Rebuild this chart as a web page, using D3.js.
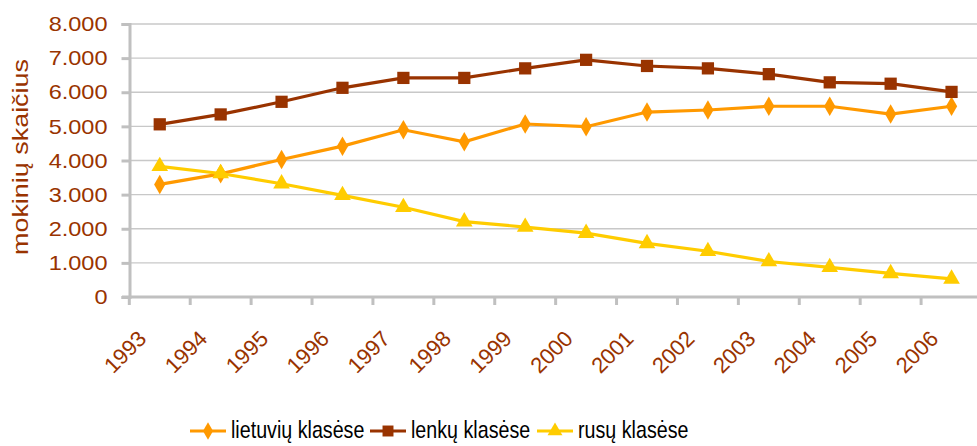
<!DOCTYPE html>
<html>
<head>
<meta charset="utf-8">
<script src="https://cdn.jsdelivr.net/npm/d3@7"></script>
<style>
  body { margin: 0; background: #fff; }
  svg { display: block; }
</style>
</head>
<body>
<svg id="svgfield" width="977" height="446"></svg>
<script>
var years = ["1993","1994","1995","1996","1997","1998","1999","2000","2001","2002","2003","2004","2005","2006"];
var lietuviu = [3300, 3610, 4030, 4420, 4900, 4550, 5070, 4990, 5420, 5480, 5590, 5590, 5360, 5590];
var lenku = [5060, 5350, 5720, 6130, 6420, 6420, 6700, 6950, 6770, 6700, 6530, 6290, 6250, 6010];
var rusu = [3830, 3620, 3320, 2980, 2630, 2210, 2050, 1870, 1570, 1340, 1040, 870, 690, 530];
var yTicks = [0, 1000, 2000, 3000, 4000, 5000, 6000, 7000, 8000];
var seriesNames = ["lietuvių klasėse", "lenkų klasėse", "rusų klasėse"];

var svg = d3.select("#svgfield");
var brown = "#993300";
var axisGray = "#c0c0c0";
var font = "Liberation Sans, Arial, sans-serif";

var x = d3.scaleBand().domain(years).range([129.3, 982]);
var y = d3.scaleLinear().domain([0, 8000]).range([297, 24]);
var fmt = d3.formatLocale({decimal: ",", thousands: ".", grouping: [3], currency: ["", ""]}).format(",");

// gridlines
svg.append("g").selectAll("line").data(yTicks.slice(1)).join("line")
  .attr("x1", 129).attr("x2", 977)
  .attr("y1", d => y(d)).attr("y2", d => y(d))
  .attr("stroke", "#c8c8c8").attr("stroke-width", 1.3);

// y axis
var yaxis = d3.axisLeft(y).tickValues(yTicks).tickFormat(fmt).tickSize(8).tickPadding(14);
var gy = svg.append("g").attr("transform", "translate(129.5,0)").call(yaxis);
gy.select(".domain").attr("stroke", axisGray).attr("stroke-width", 3);
gy.selectAll(".tick line").attr("stroke", axisGray).attr("stroke-width", 3);
gy.selectAll("text").attr("fill", brown)
  .style("font-family", font).style("font-size", "21px")
  .each(function() {
    // labels in the original are a bit wider than plain Arial
    var w = this.getComputedTextLength();
    d3.select(this).attr("textLength", w * 1.12).attr("lengthAdjust", "spacingAndGlyphs");
  });

// x axis (ticks at category boundaries)
var gx = svg.append("g").attr("transform", "translate(0,297)");
gx.append("line").attr("x1", 122).attr("x2", 977).attr("y1", 0).attr("y2", 0)
  .attr("stroke", axisGray).attr("stroke-width", 3);
gx.selectAll("line.t").data(years).join("line").attr("class", "t")
  .attr("x1", d => x(d)).attr("x2", d => x(d)).attr("y1", 0).attr("y2", 8)
  .attr("stroke", axisGray).attr("stroke-width", 3);
gx.selectAll("text").data(years).join("text")
  .attr("transform", d => "translate(" + (x(d) + x.bandwidth() / 2 - 12) + ",43) rotate(-45)")
  .attr("text-anchor", "end")
  .attr("fill", brown)
  .style("font-family", font).style("font-size", "22px")
  .text(d => d);

// y title
svg.append("text")
  .attr("transform", "translate(28,157) rotate(-90)")
  .attr("text-anchor", "middle")
  .attr("fill", brown)
  .style("font-family", font).style("font-size", "22px")
  .attr("textLength", 196).attr("lengthAdjust", "spacingAndGlyphs")
  .text("mokinių skaičius");

var series = [
  {name: seriesNames[0], values: lietuviu, color: "#ff9900", shape: d3.symbolDiamond, size: 110},
  {name: seriesNames[1], values: lenku, color: "#993300", shape: d3.symbolSquare, size: 150},
  {name: seriesNames[2], values: rusu, color: "#ffcc00", shape: d3.symbolTriangle, size: 120}
];

var cx = d => x(d) + x.bandwidth() / 2;
var line = d3.line().x((d, i) => cx(years[i])).y(d => y(d));

series.forEach(function(s) {
  var g = svg.append("g");
  g.append("path").datum(s.values).attr("d", line)
    .attr("fill", "none").attr("stroke", s.color).attr("stroke-width", 3.2);
  g.selectAll("path.m").data(s.values).join("path").attr("class", "m")
    .attr("d", d3.symbol().type(s.shape).size(s.size))
    .attr("transform", (d, i) => "translate(" + cx(years[i]) + "," + y(d) + ")")
    .attr("fill", s.color);
});

// legend
var legendX = [190, 370, 537];
var leg = svg.append("g");
series.forEach(function(s, i) {
  var lg = leg.append("g").attr("transform", "translate(" + legendX[i] + ",431)");
  lg.append("line").attr("x1", 0).attr("x2", 36).attr("stroke", s.color).attr("stroke-width", 3.2);
  lg.append("path").attr("d", d3.symbol().type(s.shape).size(s.size * 0.8))
    .attr("transform", "translate(18,0)").attr("fill", s.color);
  lg.append("text").attr("x", 41 / 0.82).attr("y", 7)
    .attr("transform", "scale(0.82,1)")
    .attr("fill", "#000")
    .style("font-family", font).style("font-size", "24px")
    .text(s.name);
});
</script>
</body>
</html>
